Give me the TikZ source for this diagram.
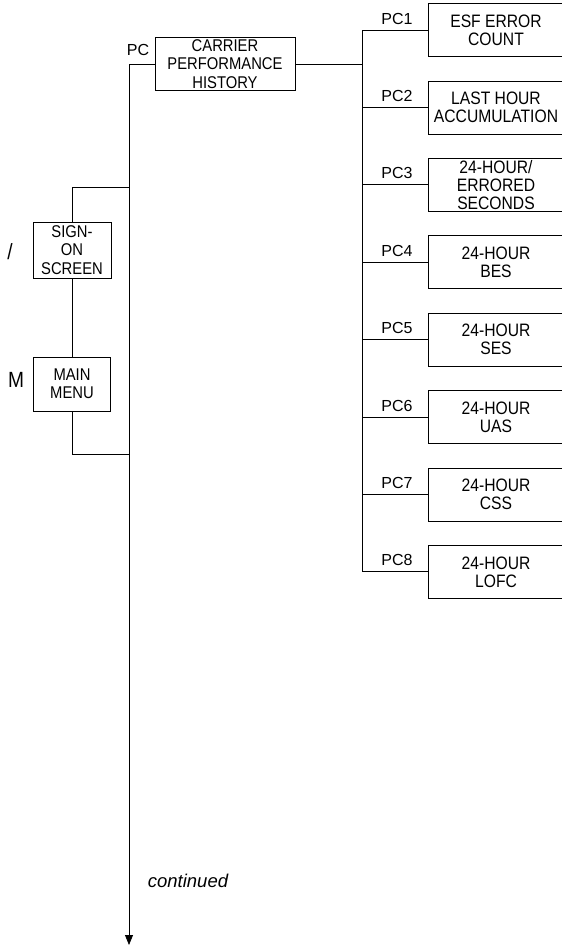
\documentclass[tikz,border=0pt]{standalone}
\usepackage{fontspec}
\setmainfont{Liberation Sans}
\newfontfamily\narrowfont[FakeStretch=0.87]{Liberation Sans}
\usetikzlibrary{arrows.meta}
\begin{document}
\begin{tikzpicture}[x=1pt,y=-1pt,line width=0.8pt,
  menubox/.style={draw,align=center,inner sep=0pt,
    font=\narrowfont\fontsize{17}{18.3}\selectfont},
  subbox/.style={menubox,minimum width=136,minimum height=53,
    font=\narrowfont\fontsize{18}{18}\selectfont},
  keylabel/.style={font=\fontsize{16}{18}\selectfont},
  sidekey/.style={font=\narrowfont\fontsize{22}{24}\selectfont}]
  \useasboundingbox (0,0) rectangle (562,948);

  % Left side: sign-on and main menu
  \node[menubox,minimum width=78,minimum height=56] (signon) at (72,250)
    {SIGN-\\ON\\SCREEN};
  \node[menubox,minimum width=77,minimum height=54] (mainmenu) at (72,384)
    {MAIN\\MENU};
  \node[sidekey] (slash) at (10,252) {/};
  \node[sidekey] (mkey) at (16,380) {M};

  % Main spine
  \coordinate (jsign) at (129,187);
  \coordinate (jmenu) at (129,454);
  \coordinate (spineend) at (129,945);
  \draw (signon.north) |- (jsign);
  \draw (signon.south) -- (mainmenu.north);
  \draw (mainmenu.south) |- (jmenu);

  % Carrier performance history
  \node[menubox,minimum width=140,minimum height=53] (carrier) at (225,64)
    {CARRIER\\PERFORMANCE\\HISTORY};
  \node[keylabel] (pckey) at (138,50) {PC};
  \coordinate (spinetop) at (carrier.west -| jsign);
  \draw (carrier.west) -- (spinetop);
  \draw[-{Triangle[width=8pt,length=10pt]}] (spinetop) -- (spineend);

  % Sub menus PC1..PC8
  \foreach \i/\txt in {1/{ESF ERROR\\COUNT},2/{LAST HOUR\\ACCUMULATION},
      3/{24-HOUR/\\ERRORED\\SECONDS},4/{24-HOUR\\BES},5/{24-HOUR\\SES},
      6/{24-HOUR\\UAS},7/{24-HOUR\\CSS},8/{24-HOUR\\LOFC}} {
    \node[subbox] (pc\i) at (496,{30+77.4*(\i-1)}) {\txt};
    \coordinate (b\i) at (362,{30+77.4*(\i-1)});
    \node[keylabel,anchor=south] (pclabel\i) at (397,{28+77.4*(\i-1)}) {PC\i};
    \draw (b\i) -- (pc\i.west);
  }
  \draw (b1) -- (b8);
  \draw (carrier.east) -- (carrier.east -| b1);

  % Continuation note
  \node[font=\fontsize{18.5}{20}\selectfont\itshape] (cont) at (188,881)
    {continued};
\end{tikzpicture}
\end{document}
